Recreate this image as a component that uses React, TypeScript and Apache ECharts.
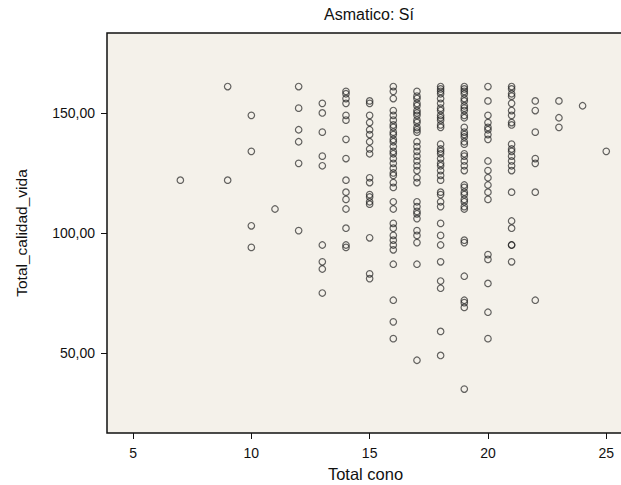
import React, { useEffect, useRef } from "react";
import * as echarts from "echarts";

// Total cono (x) -> Total_calidad_vida values (y)
const xCols: number[] = [7, 9, 10, 11, 12, 13, 14, 15, 16, 17, 18, 19, 20, 21, 22, 23, 24, 25];
const c7 = [122];
const c9 = [161, 122];
const c10 = [149, 134, 103, 94];
const c11 = [110];
const c12 = [161, 152, 143, 138, 129, 101];
const c13 = [154, 150, 142, 132, 128, 95, 88, 85, 75];
const c14 = [159, 158, 156, 154, 149, 147, 139, 131, 122, 117, 114, 110, 102, 95, 94];
const c15 = [155, 154, 149, 146, 143, 141, 138, 135, 133, 123, 121, 116, 115, 113, 112, 98, 83, 81];
const c16 = [161, 159, 156, 151, 149, 147, 145, 144, 142, 141, 139, 138, 136, 134, 133, 131, 129, 127, 125, 124, 121, 119, 113, 110, 104, 102, 99, 97, 95, 93, 87, 72, 63, 56];
const c17 = [159, 157, 156, 154, 153, 151, 150, 149, 147, 146, 144, 143, 142, 138, 136, 134, 132, 130, 128, 126, 123, 121, 113, 111, 109, 108, 106, 101, 99, 96, 87, 47];
const c18 = [161, 160, 159, 158, 156, 154, 152, 151, 149, 148, 147, 145, 144, 137, 135, 134, 133, 131, 129, 128, 126, 124, 122, 117, 116, 113, 111, 104, 99, 95, 88, 80, 77, 59, 49];
const c19 = [161, 160, 159, 158, 156, 155, 153, 152, 151, 149, 148, 144, 142, 141, 140, 138, 137, 133, 132, 130, 128, 126, 120, 119, 117, 116, 114, 113, 111, 110, 97, 96, 82, 72, 71, 69, 35];
const c20 = [161, 155, 149, 146, 144, 143, 141, 139, 130, 126, 123, 120, 117, 114, 91, 89, 79, 67, 56];
const c21 = [161, 160, 158, 157, 154, 151, 149, 146, 145, 137, 135, 134, 132, 130, 128, 126, 117, 105, 102, 95, 95, 88];
const c22 = [155, 151, 142, 131, 129, 117, 72];
const c23 = [155, 148, 144];
const c24 = [153];
const c25 = [134];
const yCols: number[][] = [c7, c9, c10, c11, c12, c13, c14, c15, c16, c17, c18, c19, c20, c21, c22, c23, c24, c25];

const xTicks = [5, 10, 15, 20, 25];
const yTicks = [50, 100, 150];

export default function App() {
  const ref = useRef<HTMLDivElement>(null);
  useEffect(() => {
    if (!ref.current) return;
    const chart = echarts.init(ref.current, null, { renderer: "svg" });
    const points: number[][] = [];
    xCols.forEach((x, i) => yCols[i].forEach((y) => points.push([x, y])));
    const font = "'Liberation Sans', Arial, sans-serif";
    chart.setOption({
      animation: false,
      backgroundColor: "#ffffff",
      title: {
        text: "Asmatico: Sí",
        left: 364,
        top: 1,
        textAlign: "center",
        textStyle: { fontFamily: font, fontSize: 16, fontWeight: "normal", color: "#111" },
      },
      grid: {
        left: 107,
        top: 33,
        right: -3,
        bottom: 52,
        outerBoundsMode: "none",
        containLabel: false,
        show: true,
        backgroundColor: "#F4F1EA",
        borderColor: "#111",
        borderWidth: 1.5,
      },
      xAxis: {
        type: "value",
        min: 3.9,
        max: 25.75,
        name: "Total cono",
        nameLocation: "middle",
        nameGap: 32,
        nameTextStyle: { fontFamily: font, fontSize: 16.5, color: "#111" },
        axisLine: { show: false },
        splitLine: { show: false },
        axisTick: { show: true, customValues: xTicks, length: 6, lineStyle: { color: "#111", width: 1 } },
        axisLabel: { customValues: xTicks, fontFamily: font, fontSize: 14, color: "#111", margin: 13 },
      },
      yAxis: {
        type: "value",
        min: 16.7,
        max: 183.3,
        name: "Total_calidad_vida",
        nameLocation: "middle",
        nameGap: 78,
        nameTextStyle: { fontFamily: font, fontSize: 15.5, color: "#111" },
        axisLine: { show: false },
        splitLine: { show: false },
        axisTick: { show: true, customValues: yTicks, length: 6, lineStyle: { color: "#111", width: 1 } },
        axisLabel: {
          customValues: yTicks,
          fontFamily: font,
          fontSize: 14,
          color: "#111",
          margin: 12,
          formatter: (v: number) => v.toFixed(2).replace(".", ","),
        },
      },
      series: [
        {
          type: "scatter",
          data: points,
          symbol: "circle",
          symbolSize: 6.5,
          itemStyle: { color: "rgba(0,0,0,0)", borderColor: "rgba(30,30,30,0.85)", borderWidth: 1.2 },
        },
      ],
    });
    return () => chart.dispose();
  }, []);
  return <div ref={ref} style={{ position: "fixed", left: 0, top: 0, width: 621, height: 485 }} />;
}
